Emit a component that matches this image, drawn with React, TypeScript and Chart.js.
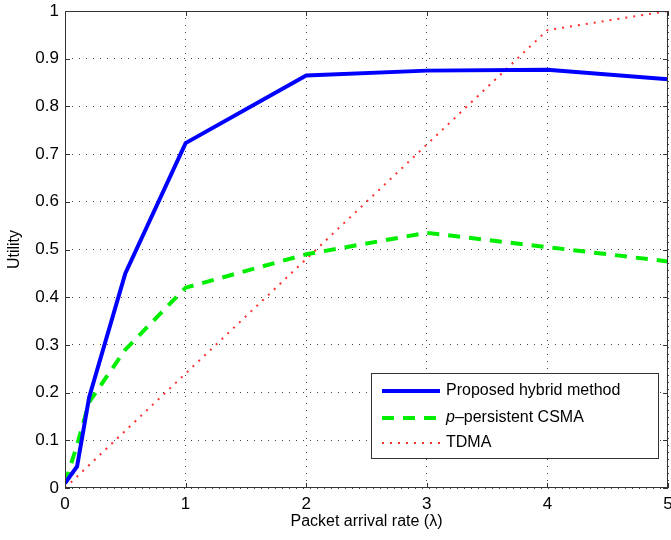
import React, { useEffect, useRef } from "react";
import { Chart, registerables } from "chart.js";

Chart.register(...registerables);

const xValues = [0, 0.1, 0.2, 0.5, 1, 2, 3, 4, 5];
const hybridValues = [0.01, 0.045, 0.19, 0.45, 0.723, 0.865, 0.875, 0.877, 0.857];
const csmaValues = [0.01, 0.09, 0.18, 0.29, 0.42, 0.49, 0.535, 0.505, 0.475];
const tdmaX = [0, 1, 2, 3, 4, 5];
const tdmaValues = [0, 0.24, 0.48, 0.72, 0.96, 1.0];
const xTicks = [0, 1, 2, 3, 4, 5];
const yTicks = [0, 0.1, 0.2, 0.3, 0.4, 0.5, 0.6, 0.7, 0.8, 0.9, 1];

const FONT = "'Liberation Sans', Arial, sans-serif";

const legendItems = [
  { label: "Proposed hybrid method", color: "#0000ff", dash: [] as number[], width: 4, italicP: false },
  { label: "–persistent CSMA", color: "#00ee00", dash: [12, 9], width: 4, italicP: true },
  { label: "TDMA", color: "#ff3030", dash: [2, 6], width: 2, italicP: false },
];

const framePlugin = {
  id: "matlabFrame",
  afterDatasetsDraw(chart: any) {
    const { ctx, chartArea: a, scales } = chart;
    ctx.save();
    ctx.strokeStyle = "#333";
    ctx.lineWidth = 1;
    ctx.setLineDash([]);
    ctx.strokeRect(a.left + 0.5, a.top + 0.5, a.right - a.left - 1, a.bottom - a.top - 1);
    const tl = 5;
    ctx.beginPath();
    for (const v of xTicks) {
      const px = Math.round(scales.x.getPixelForValue(v)) + 0.5;
      ctx.moveTo(px, a.bottom);
      ctx.lineTo(px, a.bottom - tl);
      ctx.moveTo(px, a.top);
      ctx.lineTo(px, a.top + tl);
    }
    for (const v of yTicks) {
      const py = Math.round(scales.y.getPixelForValue(v)) + 0.5;
      ctx.moveTo(a.left, py);
      ctx.lineTo(a.left + tl, py);
      ctx.moveTo(a.right, py);
      ctx.lineTo(a.right - tl, py);
    }
    ctx.stroke();

    // legend
    const bx = 371, by = 373, bw = 287, bh = 85;
    ctx.fillStyle = "#fff";
    ctx.fillRect(bx, by, bw, bh);
    ctx.strokeStyle = "#333";
    ctx.strokeRect(bx + 0.5, by + 0.5, bw, bh);
    const rows = [391, 418, 443];
    legendItems.forEach((it, i) => {
      const y = rows[i];
      ctx.beginPath();
      ctx.strokeStyle = it.color;
      ctx.lineWidth = it.width;
      ctx.setLineDash(it.dash);
      ctx.moveTo(382, y);
      ctx.lineTo(440, y);
      ctx.stroke();
      ctx.setLineDash([]);
      ctx.fillStyle = "#000";
      ctx.textBaseline = "middle";
      ctx.textAlign = "left";
      let tx = 446;
      if (it.italicP) {
        ctx.font = `italic 16px ${FONT}`;
        ctx.fillText("p", tx, y);
        tx += ctx.measureText("p").width;
      }
      ctx.font = `16px ${FONT}`;
      ctx.fillText(it.label, tx, y);
    });
    ctx.restore();
  },
};

export default function App() {
  const ref = useRef<HTMLCanvasElement>(null);
  useEffect(() => {
    document.body.style.margin = "0";
    const chart = new Chart(ref.current!, {
      type: "line",
      data: {
        datasets: [
          {
            label: "Proposed hybrid method",
            data: xValues.map((x, i) => ({ x, y: hybridValues[i] })),
            borderColor: "#0000ff",
            borderWidth: 4,
            pointRadius: 0,
            tension: 0,
          },
          {
            label: "p-persistent CSMA",
            data: xValues.map((x, i) => ({ x, y: csmaValues[i] })),
            borderColor: "#00ee00",
            borderWidth: 4,
            borderDash: [12, 9],
            pointRadius: 0,
            tension: 0,
          },
          {
            label: "TDMA",
            data: tdmaX.map((x, i) => ({ x, y: tdmaValues[i] })),
            borderColor: "#ff3030",
            borderWidth: 2,
            borderDash: [2, 6],
            pointRadius: 0,
            tension: 0,
          },
        ],
      },
      options: {
        animation: false,
        responsive: false,
        layout: { padding: { left: 5, top: 11, right: 3, bottom: 9 } },
        plugins: { legend: { display: false }, tooltip: { enabled: false } },
        scales: {
          x: {
            type: "linear",
            min: 0,
            max: 5,
            afterBuildTicks: (s: any) => { s.ticks = xTicks.map((v) => ({ value: v })); },
            afterFit: (s: any) => {
              s.height = 43;
              s.paddingLeft = 0;
              s.paddingRight = 0;
            },
            ticks: {
              color: "#000",
              font: { family: FONT, size: 17 },
              padding: 6,
              maxRotation: 0,
              callback: (v: any) => String(v),
            },
            grid: { color: "#444", lineWidth: 1, drawTicks: false },
            border: { display: false, dash: [1, 6] },
            title: {
              display: true,
              text: "Packet arrival rate (λ)",
              color: "#000",
              font: { family: FONT, size: 16 },
              padding: { top: 4, bottom: 0 },
            },
          },
          y: {
            type: "linear",
            min: 0,
            max: 1,
            afterBuildTicks: (s: any) => { s.ticks = yTicks.map((v) => ({ value: v })); },
            afterFit: (s: any) => {
              s.width = 60;
              s.paddingTop = 0;
              s.paddingBottom = 0;
            },
            ticks: {
              color: "#000",
              font: { family: FONT, size: 17 },
              padding: 6,
              callback: (v: any) => String(Math.round(v * 10) / 10),
            },
            grid: { color: "#444", lineWidth: 1, drawTicks: false },
            border: { display: false, dash: [1, 6] },
            title: {
              display: true,
              text: "Utility",
              color: "#000",
              font: { family: FONT, size: 16 },
              padding: { top: 0, bottom: 2 },
            },
          },
        },
      },
      plugins: [framePlugin],
    });
    return () => chart.destroy();
  }, []);
  return (
    <div style={{ position: "absolute", left: 0, top: 0, width: 671, height: 540 }}>
      <canvas ref={ref} width={671} height={540} style={{ display: "block" }} />
    </div>
  );
}
